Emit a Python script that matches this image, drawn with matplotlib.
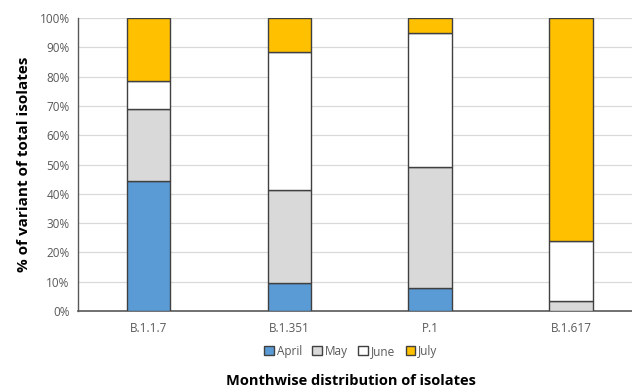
import matplotlib.pyplot as plt
from matplotlib.ticker import PercentFormatter
import numpy as np

variants = ['B.1.1.7', 'B.1.351', 'P.1', 'B.1.617']
april = [44.3, 9.4, 8.0, 0.0]
may = [24.7, 31.9, 41.3, 3.5]
june = [9.6, 47.1, 45.5, 20.4]
july = [21.4, 11.6, 5.2, 76.1]

months = ['April', 'May', 'June', 'July']
colors = ['#5B9BD5', '#D9D9D9', '#FFFFFF', '#FFC000']

plt.rcParams['font.family'] = ['Open Sans', 'DejaVu Sans']

fig = plt.figure(figsize=(6.32, 3.92), dpi=100)
ax = fig.add_axes([0.1234, 0.2066, 0.892, 0.7474])

x = np.arange(len(variants))
bottom = np.zeros(len(variants))
for name, vals, c in zip(months, [april, may, june, july], colors):
    ax.bar(x, vals, 0.31, bottom=bottom, color=c, edgecolor='#404040',
           linewidth=1.0, label=name, zorder=3)
    bottom += np.array(vals)

ax.set_ylim(0, 100)
ax.set_xlim(-0.5, 3.5)
ax.set_yticks(np.arange(0, 101, 10))
ax.yaxis.set_major_formatter(PercentFormatter(decimals=0))
ax.set_xticks(x)
ax.set_xticklabels(variants)
ax.tick_params(axis='both', length=0, labelsize=8.5, colors='#595959', pad=6)
ax.tick_params(axis='x', pad=8)
ax.grid(axis='y', color='#D9D9D9', linewidth=0.9, zorder=0)
for s in ['top', 'right']:
    ax.spines[s].set_visible(False)
ax.spines['left'].set_color('#595959')
ax.spines['bottom'].set_color('#595959')
ax.spines['left'].set_linewidth(1.0)
ax.spines['bottom'].set_linewidth(1.2)

ax.set_ylabel('% of variant of total isolates', fontsize=11, fontweight='bold',
              color='#000000', labelpad=6)

leg = fig.legend(loc='center', bbox_to_anchor=(0.555, 0.104), ncol=4, frameon=False,
                 fontsize=8.5, handlelength=0.8, handleheight=0.8, handletextpad=0.25,
                 columnspacing=0.9)
for t in leg.get_texts():
    t.set_color('#595959')

fig.text(0.555, 0.028, 'Monthwise distribution of isolates', ha='center', va='center',
         fontsize=10.5, fontweight='bold')

fig.savefig('out.png', dpi=100)
